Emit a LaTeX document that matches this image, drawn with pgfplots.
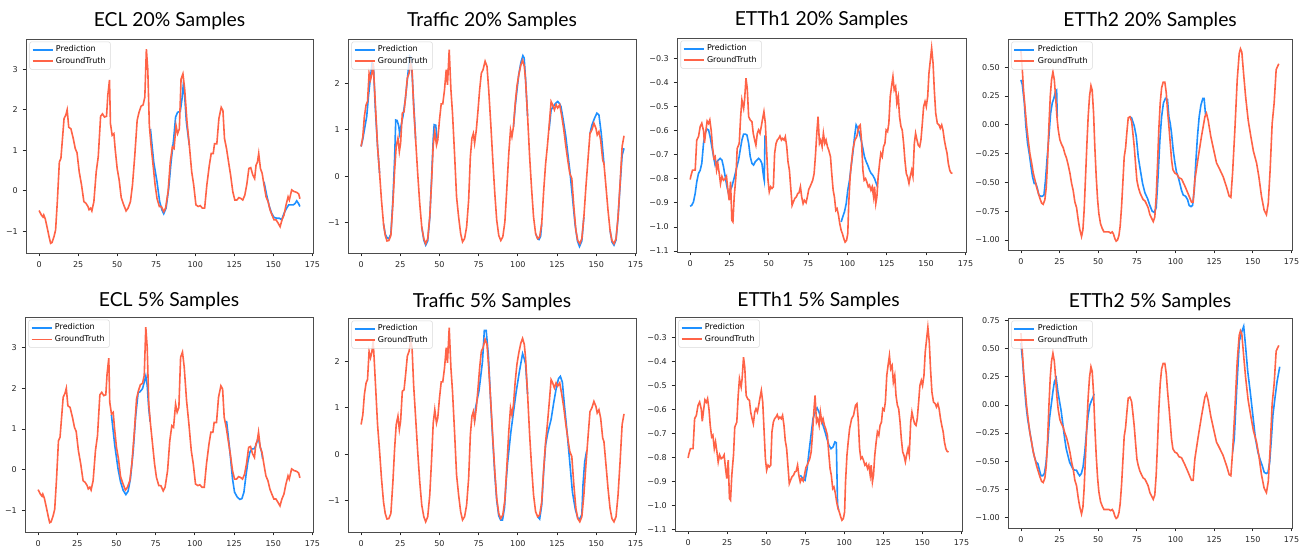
\documentclass[border=0pt]{standalone}
\usepackage{fontspec}
\usepackage{pgfplots}
\usepackage{pgfplotstable}
\pgfplotsset{compat=1.18}
\newfontfamily\dejavu{DejaVu Sans}
\newfontfamily\titlefont{Lato}
\definecolor{predblue}{RGB}{30,144,255}
\definecolor{truered}{RGB}{255,99,71}

% ground truth, one table per dataset (same for 20% and 5%)
\pgfplotstableread{
x y
0 -0.49
1.5 -0.6
2.5 -0.65
3 -0.6
4 -0.7
5.3 -0.93
6.6 -1.17
7.4 -1.3
8.3 -1.28
9.6 -1.13
10.6 -0.97
11.7 -0.27
13 0.71
14 0.8
16 1.78
17.2 1.88
18 2.0
19 1.57
20.4 1.53
21.9 1.29
23.2 1.04
24.3 0.94
25.7 0.47
27.2 0.14
28.7 -0.27
30 -0.31
31.3 -0.39
32 -0.47
33 -0.43
33.8 -0.5
35.1 -0.27
36.6 0.47
37.9 0.84
39.4 1.84
40.6 1.9
41.9 1.82
43.2 1.84
44 2.35
45.1 2.74
45.7 1.66
46.8 1.37
47.9 1.41
48.7 1.04
50 0.55
51.3 0.26
52.6 -0.17
53.8 -0.31
55.7 -0.5
57 -0.43
58.5 -0.27
59.8 0.14
61.3 0.88
62.8 1.74
64 1.94
65.3 2.09
66.6 2.12
67.7 2.31
68.7 3.5
69.6 3.0
70.6 1.61
71.7 1.12
73 0.63
74.3 0.14
75.5 -0.19
77 -0.39
78.3 -0.39
79.8 -0.52
81 -0.43
82.6 -0.02
84 0.71
85.3 1.08
86.4 1.04
87.7 1.61
88.7 1.41
89.8 1.53
90.9 2.76
92.1 2.89
93.2 2.52
94.7 1.7
96.2 1.12
97.7 0.47
99 0.14
100.4 -0.35
101.9 -0.39
103.2 -0.37
104.5 -0.43
106 -0.43
107.4 0.14
109 0.63
110.2 0.92
111.5 0.92
112.3 1.16
113.8 1.16
115.1 1.78
116.6 2.06
117.7 1.98
118.7 1.29
120 1.04
121.3 0.71
122.6 0.39
124 -0.02
125.3 -0.23
126.6 -0.23
127.9 -0.17
129.1 -0.19
130.4 -0.23
131.7 -0.11
133 0.16
134.3 0.55
135.5 0.57
136.8 0.39
138 0.3
138.9 0.63
139.8 0.71
140.6 0.92
141.7 0.55
142.8 0.43
144 0.14
145.3 -0.15
146.6 -0.27
147.9 -0.48
149.1 -0.6
150.4 -0.72
151.7 -0.72
153 -0.8
154.3 -0.89
155.5 -0.72
156.8 -0.6
158.1 -0.35
159.4 -0.15
160.2 -0.23
161.7 0.02
163.2 -0.02
164.9 -0.04
166.2 -0.08
167 -0.2
}\eclgt

\pgfplotstableread{
x y
0 0.64
1.1 0.85
2.1 1.29
3.2 1.54
4.1 1.61
5.1 2.22
6 2.08
6.8 2.19
7.7 2.44
8.3 2.08
9.4 1.36
10.5 0.64
11.8 0.06
13 -0.52
14.3 -1.03
15.4 -1.28
16.5 -1.4
17.7 -1.39
19 -1.28
20.3 -0.59
21.4 0.13
22.4 0.64
23.5 0.82
24.4 0.53
25.2 0.71
26.3 1.36
27.4 1.39
28.4 1.72
29.5 2.12
30.6 2.22
31.6 2.44
32.5 2.3
33.5 1.5
34.8 0.78
36.1 0.06
37.4 -0.59
38.7 -1.1
40 -1.35
41.2 -1.46
42.5 -1.35
43.8 -0.88
44.9 -0.16
46 0.67
47 0.96
48.1 0.67
48.9 0.78
50 1.21
51.1 1.56
52.1 1.56
53.2 1.86
54.3 2.3
55.1 1.97
56.2 2.73
57.3 1.86
58.3 1.36
59.6 0.49
60.9 -0.45
62.2 -0.88
63.5 -1.24
64.7 -1.42
66 -1.35
67.3 -1.1
68.6 -0.52
69.7 0.42
70.7 0.82
71.6 0.92
72.4 0.71
73.5 1.0
74.6 1.43
75.6 1.86
76.7 2.22
77.8 2.3
79.1 2.48
80.3 2.37
81.4 1.86
82.7 1.14
84 0.35
85.3 -0.38
86.5 -0.95
87.8 -1.28
89.1 -1.39
90.4 -1.31
91.7 -0.99
92.9 -0.3
94.2 0.49
95.3 1.0
96.2 0.85
97.2 1.07
98.3 1.57
99.4 1.94
100.6 2.19
101.9 2.4
103 2.5
104.1 2.37
104.9 2.08
106.2 1.29
107.5 0.42
108.8 -0.3
110 -0.88
111.3 -1.24
112.6 -1.35
113.9 -1.31
115.2 -1.03
116.5 -0.3
117.7 0.27
118.8 0.64
119.9 1.07
121.2 1.61
122.2 1.54
123.3 1.43
124.4 1.54
125.4 1.47
126.7 1.54
128 1.29
129.3 1.0
130.6 0.64
131.8 0.35
133.1 0.06
134.4 -0.05
135.7 -0.66
137 -1.17
138.2 -1.39
139.5 -1.46
140.8 -1.35
142.1 -0.88
143.4 -0.23
144.7 0.35
146 0.92
147.2 1.0
148.5 1.14
149.8 1.03
150.6 0.89
151.7 0.96
152.8 0.78
154.1 0.35
154.9 0.27
156.2 -0.23
157.5 -0.74
158.8 -1.17
160 -1.39
161.3 -1.46
162.6 -1.35
163.9 -0.88
165.2 -0.16
166.5 0.64
167.7 0.87
}\trafficgt

\pgfplotstableread{
x y
0 -0.803
0.6 -0.785
1.5 -0.764
3.2 -0.764
4.2 -0.639
5.3 -0.625
6.4 -0.583
7.4 -0.569
8.5 -0.6
9.1 -0.65
10 -0.6
10.8 -0.56
11.7 -0.57
12.5 -0.555
13.4 -0.6
14.2 -0.667
15.1 -0.715
15.9 -0.708
16.8 -0.764
17.6 -0.736
18.5 -0.778
19.3 -0.82
20.2 -0.79
21.2 -0.806
22.3 -0.8
23.1 -0.79
24 -0.847
24.8 -0.889
25.7 -0.812
26.5 -0.972
27.2 -0.979
28 -0.875
29.1 -0.79
29.9 -0.674
31.2 -0.653
32.1 -0.542
32.9 -0.472
34 -0.507
34.6 -0.472
35.5 -0.382
36.3 -0.424
37.2 -0.542
38.2 -0.556
39.3 -0.563
40.1 -0.611
41 -0.639
41.8 -0.66
42.7 -0.611
43.5 -0.597
44.4 -0.611
45.2 -0.583
46.1 -0.549
46.9 -0.521
47.8 -0.569
48.6 -0.681
49.5 -0.806
50.3 -0.854
51.2 -0.833
52 -0.84
52.9 -0.833
53.7 -0.694
54.6 -0.653
55.4 -0.639
56.3 -0.632
57.1 -0.622
58 -0.639
58.8 -0.632
59.7 -0.639
60.5 -0.625
61.4 -0.667
62.2 -0.729
63.1 -0.764
63.9 -0.833
64.8 -0.91
65.6 -0.896
66.5 -0.882
67.5 -0.875
68.4 -0.861
69.2 -0.858
70.1 -0.833
70.9 -0.875
71.8 -0.903
72.6 -0.889
73.7 -0.899
74.5 -0.875
75.4 -0.844
76.2 -0.833
77.1 -0.819
77.9 -0.806
78.8 -0.778
79.6 -0.708
80.5 -0.611
81.3 -0.542
82.2 -0.653
83 -0.639
83.9 -0.667
84.7 -0.611
85.6 -0.653
86.4 -0.639
87.3 -0.667
88.1 -0.681
89.2 -0.708
90 -0.778
90.9 -0.847
91.7 -0.875
92.6 -0.931
93.4 -0.924
94.3 -0.951
95.1 -0.986
96 -1.014
96.8 -1.028
97.7 -1.049
98.5 -1.063
99.4 -1.056
100.2 -1.028
100.8 -0.903
101.7 -0.792
102.5 -0.736
103.4 -0.681
104.7 -0.639
105.9 -0.625
107.2 -0.583
108.1 -0.576
108.9 -0.639
109.8 -0.764
110.6 -0.806
111.5 -0.799
112.3 -0.813
113.2 -0.833
114 -0.826
114.9 -0.847
115.7 -0.833
116.6 -0.875
117.2 -0.833
118 -0.903
118.7 -0.875
119.5 -0.792
120.4 -0.736
121.2 -0.694
122.1 -0.708
122.9 -0.667
123.8 -0.653
124.6 -0.597
125.5 -0.604
126.3 -0.569
127.2 -0.458
128 -0.417
128.9 -0.375
129.7 -0.431
130.6 -0.417
131.4 -0.486
132.3 -0.458
133.1 -0.542
134 -0.583
134.8 -0.597
135.7 -0.653
136.5 -0.722
137.4 -0.778
138.2 -0.792
139.1 -0.819
139.9 -0.79
140.8 -0.764
141.6 -0.79
142.5 -0.653
143.3 -0.611
144.2 -0.639
145 -0.66
145.9 -0.667
146.7 -0.639
147.6 -0.569
148.4 -0.5
149.3 -0.479
150.1 -0.5
151 -0.458
151.8 -0.361
152.7 -0.306
153.5 -0.257
154.4 -0.319
155.2 -0.431
156.1 -0.528
157.1 -0.569
158.2 -0.576
159 -0.59
159.9 -0.576
160.7 -0.597
161.6 -0.639
162.4 -0.667
163.3 -0.694
164.1 -0.736
165 -0.764
165.8 -0.775
166.7 -0.778
}\ettaGT

\pgfplotstableread{
x y
0 0.64
0.9 0.48
1.7 0.30
2.6 0.16
3.7 -0.01
4.7 -0.13
5.8 -0.25
6.9 -0.33
8 -0.42
9.1 -0.48
10.1 -0.54
11.2 -0.59
12.3 -0.64
13.4 -0.68
14.4 -0.69
15.5 -0.65
16.4 -0.54
17.2 -0.33
18.1 -0.01
19 0.25
19.8 0.39
20.7 0.46
21.6 0.39
22.4 0.25
23.3 0.07
24.1 -0.04
25.2 -0.13
26.3 -0.17
27.4 -0.2
28.4 -0.25
29.5 -0.29
30.6 -0.35
31.7 -0.42
32.8 -0.51
33.8 -0.57
34.9 -0.67
36 -0.72
37.1 -0.83
38.1 -0.91
39.2 -0.97
40.1 -0.91
40.9 -0.74
41.8 -0.45
42.7 -0.16
43.5 0.07
44.4 0.25
45.3 0.34
46.1 0.3
47 0.1
47.8 -0.19
48.7 -0.45
49.6 -0.65
50.4 -0.77
51.5 -0.86
52.6 -0.9
53.7 -0.93
54.7 -0.93
55.8 -0.93
56.9 -0.93
58 -0.94
59.1 -0.93
59.9 -0.95
60.8 -0.99
61.6 -1.01
62.5 -1.0
63.4 -0.96
64.2 -0.88
65.1 -0.71
65.9 -0.51
66.8 -0.28
67.7 -0.2
68.5 -0.07
69.4 0.06
70.5 0.07
71.6 0.03
72.4 -0.07
73.3 -0.19
74.1 -0.33
75 -0.48
75.9 -0.54
77 -0.59
78 -0.62
79.1 -0.65
80.2 -0.66
81.3 -0.69
82.3 -0.72
83.4 -0.78
84.5 -0.81
85.6 -0.84
86.6 -0.8
87.5 -0.62
88.4 -0.33
89.2 -0.04
90.1 0.19
91 0.32
92 0.37
93.1 0.37
94 0.28
94.8 0.13
95.7 -0.01
96.6 -0.16
97.4 -0.3
98.3 -0.39
99.6 -0.42
101 -0.43
102.2 -0.46
103.9 -0.47
106 -0.53
108.2 -0.6
110.3 -0.67
111.4 -0.67
112.5 -0.48
114.7 -0.28
116.8 -0.1
119 0.07
120 0.1
121.1 0.04
122.8 -0.1
124.4 -0.2
126.5 -0.33
128.7 -0.39
130.8 -0.45
133 -0.54
134.7 -0.62
135.8 -0.63
136.9 -0.42
138.4 -0.04
139.9 0.39
141.2 0.62
142 0.66
142.9 0.63
144 0.45
145.3 0.25
147 0.04
148.7 -0.1
150.4 -0.23
152.4 -0.33
153.9 -0.45
155.6 -0.62
157.3 -0.74
158.8 -0.78
160 -0.68
161.2 -0.39
162.5 0.01
163.8 0.19
165.1 0.48
166.8 0.53
}\ettbGT

% predictions, nan rows split the forecast windows
\pgfplotstableread{
x y
71.3 1.53
73.4 0.71
75.5 0.22
77.2 -0.27
78.7 -0.48
79.8 -0.57
81.3 -0.43
83 0.06
84.5 0.71
86.2 1.29
87.4 1.82
88.7 1.94
90.4 1.96
91.5 2.27
92.3 2.61
93.2 2.35
94.3 1.7
96.2 1.12
nan nan
144 0.22
145.7 -0.11
147.4 -0.39
148.9 -0.56
150.4 -0.66
152.1 -0.68
153.8 -0.68
155.3 -0.72
156.8 -0.56
158.5 -0.43
159.8 -0.35
161 -0.35
162.8 -0.35
164 -0.31
164.9 -0.25
166 -0.31
167 -0.39
}\eclA

\pgfplotstableread{
x y
46.8 1.34
48.9 0.6
51 0.02
52.6 -0.3
54.3 -0.51
56 -0.61
57.4 -0.53
58.9 -0.22
60.6 0.43
62.3 1.34
63.8 1.89
64.9 1.91
66.6 1.99
67.7 2.15
68.7 2.3
69.6 2.07
70.6 1.5
71.5 1.17
nan nan
120.2 1.2
121.5 0.75
122.8 0.27
124 -0.22
125.3 -0.55
127 -0.67
128.7 -0.73
130 -0.71
131.3 -0.55
132.6 -0.14
133.8 0.19
135.1 0.43
136.4 0.51
137.7 0.51
138.9 0.59
140.4 0.8
141.5 0.59
142.6 0.43
143.2 0.27
}\eclB

\pgfplotstableread{
x y
0 0.64
1.1 0.8
2.1 1.0
3.6 1.29
4.7 1.72
5.8 2.08
7 2.44
7.9 2.37
9 1.5
10.5 0.64
11.8 0.06
nan nan
14.3 -1.03
15.4 -1.25
16.5 -1.33
17.7 -1.35
19 -1.25
20.3 -0.5
21.4 0.4
22.1 1.21
23 1.2
24 1.08
24.6 0.92
25.4 1.07
26.7 1.29
28.2 1.65
29.7 2.15
31 2.59
32 2.55
33.5 1.6
34.8 0.78
nan nan
38.7 -1.1
40 -1.38
41.2 -1.49
42.5 -1.4
43.8 -0.9
44.9 -0.1
46 0.8
46.6 1.11
47.6 1.1
48.5 0.8
49 0.78
nan nan
97.2 1.07
98.3 1.5
99.4 1.85
100.6 2.2
101.9 2.45
103.2 2.6
104 2.55
104.9 2.1
106.2 1.29
nan nan
111.3 -1.24
112.6 -1.35
113.5 -1.37
114.5 -1.3
115.2 -1.03
nan nan
119.9 1.0
121.2 1.43
122.5 1.5
124 1.57
125.4 1.61
126.5 1.57
127.5 1.5
129 1.2
130.6 0.85
131.8 0.5
133.1 0.13
134.8 -0.45
136.5 -1.05
138 -1.4
139.3 -1.52
140.8 -1.4
142.1 -0.88
nan nan
146 0.92
147.2 1.1
148.9 1.25
150.4 1.36
151.7 1.32
153.2 0.92
154.9 0.27
nan nan
158.8 -1.17
160 -1.42
161.3 -1.49
162.6 -1.38
163.9 -0.9
165.2 -0.2
166.5 0.45
167.7 0.6
}\trafficA

\pgfplotstableread{
x y
72.4 0.71
73 1.0
75.2 1.37
77.4 1.99
78.6 2.67
79.8 2.67
81.2 2.13
82.7 1.1
84 0.3
85.3 -0.45
86.5 -1.0
87.8 -1.33
89 -1.42
90.2 -1.42
91.5 -1.15
92.5 -0.6
93.4 -0.2
95.5 0.47
97.2 0.91
98.9 1.34
100.9 1.77
103 2.17
104.1 2.06
104.9 1.95
106.2 1.29
nan nan
112.6 -1.35
113.9 -1.4
115.2 -1.1
116.5 -0.35
117.7 0.2
119 0.45
121.2 0.75
122.9 1.12
124.4 1.41
125.9 1.63
127.1 1.68
128.4 1.55
129.7 1.05
131.4 0.47
133.1 -0.17
134.8 -0.82
136.6 -1.18
138.2 -1.38
139.5 -1.4
140.8 -1.3
141.5 -0.68
142.6 -0.17
143.8 0.06
}\trafficB

\pgfplotstableread{
x y
0 -0.914
1 -0.91
2.1 -0.896
3.2 -0.861
4.2 -0.813
5.3 -0.778
6.4 -0.764
7.4 -0.736
8.5 -0.653
9.6 -0.611
10.6 -0.593
11.7 -0.597
12.7 -0.625
13.8 -0.667
14.9 -0.708
15.9 -0.743
17 -0.729
18 -0.722
19.1 -0.715
20.2 -0.722
21.2 -0.75
22.3 -0.792
23.4 -0.833
24.4 -0.861
25.5 -0.847
26.5 -0.833
27.6 -0.806
28.7 -0.778
29.7 -0.75
30.8 -0.722
31.8 -0.681
32.9 -0.639
34 -0.614
35 -0.614
36.1 -0.618
37.2 -0.653
38.2 -0.708
39.3 -0.736
40.3 -0.743
41.4 -0.729
42.5 -0.722
43.5 -0.715
44.6 -0.722
45.6 -0.736
46.7 -0.792
47.1 -0.806
47.6 -0.62
nan nan
96 -0.979
97 -0.958
98.1 -0.937
99.2 -0.903
100.2 -0.847
101.3 -0.806
102.3 -0.75
103.4 -0.694
104.5 -0.625
105.5 -0.576
106.6 -0.59
107.6 -0.611
108.7 -0.639
109.8 -0.674
110.8 -0.708
111.9 -0.729
112.9 -0.743
114 -0.764
115.1 -0.778
116.1 -0.785
117.2 -0.799
118.3 -0.819
119.1 -0.833
}\ettaA

\pgfplotstableread{
x y
71.9 -0.875
73.4 -0.889
74.9 -0.896
76.2 -0.848
77.4 -0.778
78.7 -0.708
80 -0.638
81.3 -0.611
82.6 -0.594
83.8 -0.611
85.1 -0.638
86.4 -0.666
87.7 -0.694
88.9 -0.722
90.2 -0.75
91.5 -0.764
92.8 -0.757
94 -0.736
94.9 -0.739
95.7 -1.0
96.4 -1.02
}\ettaB

\pgfplotstableread{
x y
0 0.39
0.9 0.35
2.2 0.19
3.2 -0.01
4.3 -0.16
5.4 -0.25
6.5 -0.36
7.5 -0.45
8.6 -0.51
9.7 -0.51
10.6 -0.55
11.6 -0.61
12.7 -0.62
13.8 -0.62
14.9 -0.61
15.9 -0.48
17 -0.28
18.1 -0.1
19.2 0.1
20.3 0.19
21.3 0.23
22.4 0.29
23.1 0.3
23.5 0.07
nan nan
70.5 0.07
71.6 0.06
73.3 -0.01
74.6 -0.1
75.9 -0.28
77.2 -0.39
78.7 -0.51
80.2 -0.59
81.9 -0.64
83.4 -0.7
84.9 -0.75
86.2 -0.76
87.5 -0.72
88.7 -0.45
89.9 -0.13
91 0.07
92.2 0.19
93.5 0.23
94.8 0.22
95.7 0.07
96.6 0.01
97.4 -0.07
98.5 -0.22
99.6 -0.33
100.6 -0.41
101.7 -0.45
102.8 -0.51
103.9 -0.57
105 -0.61
106.5 -0.62
107.8 -0.65
108.8 -0.7
110 -0.71
111 -0.7
112.1 -0.57
113.1 -0.33
114.2 -0.1
115.3 0.07
116.4 0.17
117.7 0.23
118.5 0.23
119.4 0.09
}\ettbA

\pgfplotstableread{
x y
0 0.55
1.1 0.39
2.2 0.18
3.3 0.0
4.3 -0.12
5.4 -0.21
6.5 -0.3
7.6 -0.39
8.7 -0.46
9.8 -0.51
10.9 -0.52
12 -0.58
13 -0.63
14.1 -0.63
15.2 -0.61
16.3 -0.51
17.4 -0.33
18.5 -0.12
19.6 0.0
20.7 0.12
21.7 0.21
22.8 0.24
23.9 0.12
25 0.03
26.1 -0.06
27.2 -0.18
28.3 -0.3
29.3 -0.39
30.4 -0.45
31.5 -0.51
32.6 -0.54
33.7 -0.57
34.8 -0.58
35.9 -0.58
37 -0.61
38 -0.63
39.1 -0.61
40.2 -0.55
41.3 -0.42
42.4 -0.24
43.5 -0.09
44.6 0.0
45.7 0.04
46.7 0.07
47.4 0.1
nan nan
136.9 -0.42
138 -0.3
139.6 0.15
141.3 0.57
142.8 0.65
144.1 0.7
145.2 0.54
146.7 0.3
148.3 0.12
150 -0.09
151.7 -0.3
153.3 -0.42
154.8 -0.49
156.1 -0.54
157.4 -0.6
158.7 -0.61
159.8 -0.6
160.9 -0.51
162 -0.3
163 -0.09
164.3 0.06
165.7 0.21
167.4 0.34
}\ettbB

% matplotlib style tick labels with a real minus sign
\newcommand\mplytick{\pgfmathparse{\tick}\ifdim\pgfmathresult pt<-0.00001pt −\fi
  \pgfmathparse{abs(\tick)}\pgfmathprintnumber{\pgfmathresult}}

\pgfplotsset{
  panel/.style={
    scale only axis, anchor=north west,
    width=215.25pt, height=160.5pt,
    xmin=-8.35, xmax=175.35, xtick={0,25,...,175},
    tick pos=left, tick align=outside, major tick length=2.6pt,
    every tick/.style={black!85, line width=0.6pt},
    axis line style={black!70, line width=0.6pt},
    ticklabel style={font=\dejavu\fontsize{6}{7}\selectfont, text=black!85},
    xticklabel style={yshift=-0.5pt},
    /pgf/number format/assume math mode=true,
    yticklabel={\mplytick},
    title style={font=\titlefont\fontsize{14.5}{16}\selectfont, anchor=base, yshift=3.75pt},
    legend style={at={(0.012,0.988)}, anchor=north west, draw=black!15, rounded corners=1.5pt,
      fill=white, fill opacity=0.8, text opacity=1, font=\dejavu\fontsize{6}{7}\selectfont,
      inner xsep=1.5pt, inner ysep=1pt, row sep=-1.5pt},
    legend cell align=left,
    legend image code/.code={\draw[#1] (0pt,0pt) -- (15pt,0pt);},
    unbounded coords=jump,
  },
  bottom row/.style={title style={yshift=-1.5pt}},
  onedec/.style={yticklabel style={/pgf/number format/.cd, fixed, fixed zerofill, precision=1}},
  twodec/.style={yticklabel style={/pgf/number format/.cd, fixed, fixed zerofill, precision=2}},
  pred/.style={color=predblue, line width=1.2pt},
  truth/.style={color=truered, line width=1.2pt},
}

\begin{document}
\begin{tikzpicture}
\useasboundingbox (0,0) rectangle (981.75pt,-412.5pt);

% top row: 20% samples
\begin{axis}[panel, at={(19.5pt,-29.25pt)}, title={ECL 20\% Samples},
    ymin=-1.54, ymax=3.75, ytick={-1,0,1,2,3}]
  \addplot[pred] table {\eclA};
  \addplot[truth] table {\eclgt};
  \legend{Prediction,GroundTruth}
\end{axis}

\begin{axis}[panel, at={(261pt,-29.25pt)}, width=216pt, title={Traffic 20\% Samples},
    ymin=-1.66, ymax=2.96, ytick={-1,0,1,2}]
  \addplot[pred] table {\trafficA};
  \addplot[truth] table {\trafficgt};
  \legend{Prediction,GroundTruth}
\end{axis}

\begin{axis}[panel, onedec, at={(507.75pt,-28.5pt)}, width=216.75pt, title={ETTh1 20\% Samples},
    ymin=-1.104, ymax=-0.215, ytick={-1.1,-1.0,...,-0.25}]
  \addplot[pred] table {\ettaA};
  \addplot[truth] table {\ettaGT};
  \legend{Prediction,GroundTruth}
\end{axis}

\begin{axis}[panel, twodec, at={(756pt,-29.25pt)}, width=213pt, height=158.25pt, title={ETTh2 20\% Samples},
    ymin=-1.087, ymax=0.745, ytick={-1,-0.75,...,0.6}]
  \addplot[pred] table {\ettbA};
  \addplot[truth] table {\ettbGT};
  \legend{Prediction,GroundTruth}
\end{axis}

% bottom row: 5% samples
\begin{axis}[panel, bottom row, at={(18.75pt,-237.75pt)}, width=216pt, height=161.25pt, title={ECL 5\% Samples},
    ymin=-1.53, ymax=3.75, ytick={-1,0,1,2,3}]
  \addplot[pred] table {\eclB};
  \addplot[truth] table {\eclgt};
  \legend{Prediction,GroundTruth}
\end{axis}

\begin{axis}[panel, bottom row, at={(261pt,-238.5pt)}, width=216pt, title={Traffic 5\% Samples},
    ymin=-1.68, ymax=2.94, ytick={-1,0,1,2}]
  \addplot[pred] table {\trafficB};
  \addplot[truth] table {\trafficgt};
  \legend{Prediction,GroundTruth}
\end{axis}

\begin{axis}[panel, bottom row, onedec, at={(506.25pt,-237.75pt)}, title={ETTh1 5\% Samples},
    ymin=-1.108, ymax=-0.214, ytick={-1.1,-1.0,...,-0.25}]
  \addplot[pred] table {\ettaB};
  \addplot[truth] table {\ettaGT};
  \legend{Prediction,GroundTruth}
\end{axis}

\begin{axis}[panel, bottom row, twodec, at={(756pt,-238.5pt)}, width=213pt, height=157.5pt, title={ETTh2 5\% Samples},
    ymin=-1.095, ymax=0.774, ytick={-1,-0.75,...,0.8}]
  \addplot[pred] table {\ettbB};
  \addplot[truth] table {\ettbGT};
  \legend{Prediction,GroundTruth}
\end{axis}
\end{tikzpicture}
\end{document}
